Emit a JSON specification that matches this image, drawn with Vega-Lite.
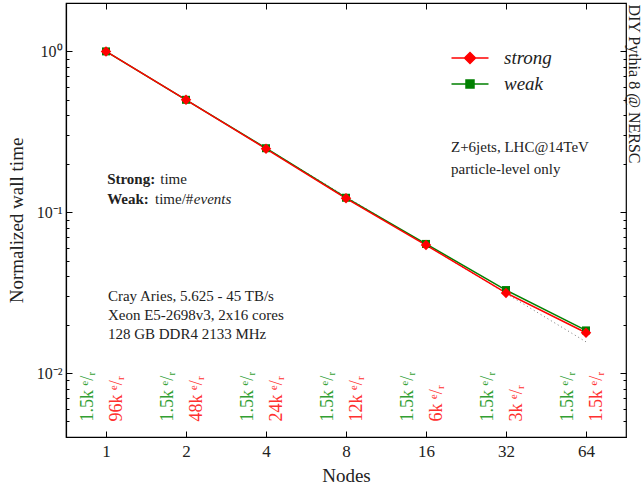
{
  "$schema": "https://vega.github.io/schema/vega-lite/v6.json",
  "width": 560,
  "height": 434,
  "autosize": {"type": "none"},
  "padding": {"left": 66, "top": 3, "right": 16, "bottom": 52},
  "background": "white",
  "config": {
    "view": {"stroke": "black", "strokeWidth": 1.2},
    "font": "Liberation Serif",
    "text": {"font": "Liberation Serif"},
    "legend": {"labelFont": "Liberation Serif"},
    "axis": {
      "grid": false,
      "domainColor": "black",
      "domainWidth": 1.2,
      "tickColor": "black",
      "tickWidth": 1,
      "labelColor": "#222222",
      "titleColor": "#222222",
      "labelFont": "Liberation Serif",
      "titleFont": "Liberation Serif",
      "titleFontWeight": "normal"
    }
  },
  "datasets": {
    "timing": [
      {"nodes": 1, "series": "weak", "time": 1.0},
      {"nodes": 2, "series": "weak", "time": 0.5},
      {"nodes": 4, "series": "weak", "time": 0.25},
      {"nodes": 8, "series": "weak", "time": 0.123},
      {"nodes": 16, "series": "weak", "time": 0.0635},
      {"nodes": 32, "series": "weak", "time": 0.0328},
      {"nodes": 64, "series": "weak", "time": 0.0184},
      {"nodes": 1, "series": "strong", "time": 1.0},
      {"nodes": 2, "series": "strong", "time": 0.5},
      {"nodes": 4, "series": "strong", "time": 0.248},
      {"nodes": 8, "series": "strong", "time": 0.122},
      {"nodes": 16, "series": "strong", "time": 0.0625},
      {"nodes": 32, "series": "strong", "time": 0.0315},
      {"nodes": 64, "series": "strong", "time": 0.0178}
    ],
    "ideal": [
      {"nodes": 1, "time": 1.0},
      {"nodes": 2, "time": 0.5},
      {"nodes": 4, "time": 0.25},
      {"nodes": 8, "time": 0.125},
      {"nodes": 16, "time": 0.0625},
      {"nodes": 32, "time": 0.03125},
      {"nodes": 64, "time": 0.015625}
    ],
    "events": [
      {"nodes": 1, "weak": "1.5k ᵉ/ᵣ", "strong": "96k ᵉ/ᵣ"},
      {"nodes": 2, "weak": "1.5k ᵉ/ᵣ", "strong": "48k ᵉ/ᵣ"},
      {"nodes": 4, "weak": "1.5k ᵉ/ᵣ", "strong": "24k ᵉ/ᵣ"},
      {"nodes": 8, "weak": "1.5k ᵉ/ᵣ", "strong": "12k ᵉ/ᵣ"},
      {"nodes": 16, "weak": "1.5k ᵉ/ᵣ", "strong": "6k ᵉ/ᵣ"},
      {"nodes": 32, "weak": "1.5k ᵉ/ᵣ", "strong": "3k ᵉ/ᵣ"},
      {"nodes": 64, "weak": "1.5k ᵉ/ᵣ", "strong": "1.5k ᵉ/ᵣ"}
    ],
    "one": [{"k": 0}]
  },
  "layer": [
    {
      "data": {"name": "ideal"},
      "mark": {"type": "line", "color": "#777777", "strokeWidth": 1, "strokeDash": [1, 3]},
      "encoding": {
        "x": {"field": "nodes", "type": "quantitative",
          "scale": {"type": "log", "base": 2, "domain": [0.7071, 90.51], "nice": false},
          "axis": {"orient": "top", "values": [1, 2, 4, 8, 16, 32, 64], "labels": false, "title": null, "domain": false, "tickSize": -6}},
        "y": {"field": "time", "type": "quantitative",
          "scale": {"type": "log", "domain": [0.004, 2], "nice": false},
          "axis": {"orient": "right", "labels": false, "title": null, "domain": false,
            "values": [0.004, 0.005, 0.006, 0.007, 0.008, 0.009, 0.01, 0.02, 0.03, 0.04, 0.05, 0.06, 0.07, 0.08, 0.09, 0.1, 0.2, 0.3, 0.4, 0.5, 0.6, 0.7, 0.8, 0.9, 1],
            "tickSize": {"condition": {"test": "abs(log(datum.value)/LN10 - round(log(datum.value)/LN10)) < 0.001", "value": -6}, "value": -3}}}
      }
    },
    {
      "data": {"name": "timing"},
      "mark": {"type": "line", "strokeWidth": 1.5},
      "encoding": {
        "x": {"field": "nodes", "type": "quantitative",
          "scale": {"type": "log", "base": 2, "domain": [0.7071, 90.51], "nice": false},
          "axis": {"orient": "bottom", "values": [1, 2, 4, 8, 16, 32, 64], "labelExpr": "format(datum.value, 'd')",
            "labelFontSize": 17, "labelPadding": 12, "tickSize": -6, "title": "Nodes", "titleFontSize": 19,
            "titleY": 38, "titleBaseline": "middle"}},
        "y": {"field": "time", "type": "quantitative",
          "scale": {"type": "log", "domain": [0.004, 2], "nice": false},
          "axis": {"orient": "left",
            "values": [0.004, 0.005, 0.006, 0.007, 0.008, 0.009, 0.01, 0.02, 0.03, 0.04, 0.05, 0.06, 0.07, 0.08, 0.09, 0.1, 0.2, 0.3, 0.4, 0.5, 0.6, 0.7, 0.8, 0.9, 1],
            "labelExpr": "datum.value == 1 ? '10⁰' : (abs(datum.value - 0.1) < 1e-9 ? '10⁻¹' : (abs(datum.value - 0.01) < 1e-9 ? '10⁻²' : ''))",
            "labelFontSize": 16, "labelPadding": 10,
            "tickSize": {"condition": {"test": "abs(log(datum.value)/LN10 - round(log(datum.value)/LN10)) < 0.001", "value": -6}, "value": -3},
            "title": "Normalized wall time", "titleFontSize": 19, "titleX": -50, "titleY": 217, "titleAnchor": "middle", "titleBaseline": "middle"}},
        "color": {"field": "series", "type": "nominal",
          "scale": {"domain": ["strong", "weak"], "range": ["#ff0000", "#008000"]},
          "legend": {"orient": "none", "legendX": 393, "legendY": 44, "title": null, "padding": 0,
            "symbolSize": 400, "labelOffset": 23, "rowPadding": 5, "labelFont": "Liberation Serif",
            "labelFontStyle": "italic", "labelFontSize": 19, "labelColor": "#222222", "symbolStrokeWidth": 1.5,
            "encode": {"symbols": {"update": {
              "shape": {"signal": "datum.value === 'strong' ? 'M-1.85,0H1.85M0,-0.55L0.55,0L0,0.55L-0.55,0Z' : 'M-1.85,0H1.85M-0.4,-0.4H0.4V0.4H-0.4Z'"},
              "fill": {"signal": "datum.value === 'strong' ? '#ff0000' : '#008000'"},
              "fillOpacity": {"value": 1}}}}}}
      }
    },
    {
      "data": {"name": "timing"},
      "transform": [{"filter": "datum.series === 'weak'"}],
      "mark": {"type": "point", "shape": "square", "filled": true, "size": 64, "color": "#008000", "opacity": 1},
      "encoding": {
        "x": {"field": "nodes", "type": "quantitative", "scale": {"type": "log", "base": 2, "domain": [0.7071, 90.51], "nice": false}, "axis": null},
        "y": {"field": "time", "type": "quantitative", "scale": {"type": "log", "domain": [0.004, 2], "nice": false}, "axis": null}
      }
    },
    {
      "data": {"name": "timing"},
      "transform": [{"filter": "datum.series === 'strong'"}],
      "mark": {"type": "point", "shape": "diamond", "filled": true, "size": 110, "color": "#ff0000", "opacity": 1},
      "encoding": {
        "x": {"field": "nodes", "type": "quantitative", "scale": {"type": "log", "base": 2, "domain": [0.7071, 90.51], "nice": false}, "axis": null},
        "y": {"field": "time", "type": "quantitative", "scale": {"type": "log", "domain": [0.004, 2], "nice": false}, "axis": null}
      }
    },
    {
      "data": {"name": "events"},
      "mark": {"type": "text", "angle": 270, "align": "left", "baseline": "middle", "dy": -18, "fontSize": 18, "font": "Liberation Serif", "color": "#33a033"},
      "encoding": {
        "x": {"field": "nodes", "type": "quantitative", "scale": {"type": "log", "base": 2, "domain": [0.7071, 90.51], "nice": false}, "axis": null},
        "y": {"datum": 0.005, "type": "quantitative", "scale": {"type": "log", "domain": [0.004, 2], "nice": false}, "axis": null},
        "text": {"field": "weak"}
      }
    },
    {
      "data": {"name": "events"},
      "mark": {"type": "text", "angle": 270, "align": "left", "baseline": "middle", "dy": 11, "fontSize": 18, "font": "Liberation Serif", "color": "#ff3030"},
      "encoding": {
        "x": {"field": "nodes", "type": "quantitative", "scale": {"type": "log", "base": 2, "domain": [0.7071, 90.51], "nice": false}, "axis": null},
        "y": {"datum": 0.005, "type": "quantitative", "scale": {"type": "log", "domain": [0.004, 2], "nice": false}, "axis": null},
        "text": {"field": "strong"}
      }
    },
    {
      "data": {"name": "one"},
      "mark": {"type": "text", "text": "Strong:", "fontWeight": "bold", "fontSize": 15, "align": "left", "baseline": "middle", "color": "#222222"},
      "encoding": {
        "x": {"datum": 1.01, "type": "quantitative", "scale": {"type": "log", "base": 2, "domain": [0.7071, 90.51], "nice": false}, "axis": null},
        "y": {"datum": 0.16, "type": "quantitative", "scale": {"type": "log", "domain": [0.004, 2], "nice": false}, "axis": null}
      }
    },
    {
      "data": {"name": "one"},
      "mark": {"type": "text", "text": "time", "fontSize": 15, "align": "left", "baseline": "middle", "color": "#222222"},
      "encoding": {
        "x": {"datum": 1.6, "type": "quantitative", "scale": {"type": "log", "base": 2, "domain": [0.7071, 90.51], "nice": false}, "axis": null},
        "y": {"datum": 0.16, "type": "quantitative", "scale": {"type": "log", "domain": [0.004, 2], "nice": false}, "axis": null}
      }
    },
    {
      "data": {"name": "one"},
      "mark": {"type": "text", "text": "Weak:", "fontWeight": "bold", "fontSize": 15, "align": "left", "baseline": "middle", "color": "#222222"},
      "encoding": {
        "x": {"datum": 1.01, "type": "quantitative", "scale": {"type": "log", "base": 2, "domain": [0.7071, 90.51], "nice": false}, "axis": null},
        "y": {"datum": 0.1205, "type": "quantitative", "scale": {"type": "log", "domain": [0.004, 2], "nice": false}, "axis": null}
      }
    },
    {
      "data": {"name": "one"},
      "mark": {"type": "text", "text": "time/#", "fontSize": 15, "align": "left", "baseline": "middle", "color": "#222222"},
      "encoding": {
        "x": {"datum": 1.529, "type": "quantitative", "scale": {"type": "log", "base": 2, "domain": [0.7071, 90.51], "nice": false}, "axis": null},
        "y": {"datum": 0.1205, "type": "quantitative", "scale": {"type": "log", "domain": [0.004, 2], "nice": false}, "axis": null}
      }
    },
    {
      "data": {"name": "one"},
      "mark": {"type": "text", "text": "events", "fontStyle": "italic", "fontSize": 15, "align": "left", "baseline": "middle", "color": "#222222"},
      "encoding": {
        "x": {"datum": 2.14, "type": "quantitative", "scale": {"type": "log", "base": 2, "domain": [0.7071, 90.51], "nice": false}, "axis": null},
        "y": {"datum": 0.1205, "type": "quantitative", "scale": {"type": "log", "domain": [0.004, 2], "nice": false}, "axis": null}
      }
    },
    {
      "data": {"name": "one"},
      "mark": {"type": "text", "text": ["Cray Aries, 5.625 - 45 TB/s", "Xeon E5-2698v3, 2x16 cores", "128 GB DDR4 2133 MHz"], "fontSize": 15, "lineHeight": 19, "align": "left", "baseline": "middle", "color": "#222222"},
      "encoding": {
        "x": {"datum": 1.017, "type": "quantitative", "scale": {"type": "log", "base": 2, "domain": [0.7071, 90.51], "nice": false}, "axis": null},
        "y": {"datum": 0.0303, "type": "quantitative", "scale": {"type": "log", "domain": [0.004, 2], "nice": false}, "axis": null}
      }
    },
    {
      "data": {"name": "one"},
      "mark": {"type": "text", "text": ["Z+6jets, LHC@14TeV", "particle-level only"], "fontSize": 15, "lineHeight": 22, "align": "left", "baseline": "middle", "color": "#222222"},
      "encoding": {
        "x": {"datum": 19.87, "type": "quantitative", "scale": {"type": "log", "base": 2, "domain": [0.7071, 90.51], "nice": false}, "axis": null},
        "y": {"datum": 0.2533, "type": "quantitative", "scale": {"type": "log", "domain": [0.004, 2], "nice": false}, "axis": null}
      }
    },
    {
      "data": {"name": "one"},
      "mark": {"type": "text", "text": "DIY Pythia 8 @ NERSC", "angle": 90, "fontSize": 16, "align": "left", "baseline": "middle", "color": "#222222"},
      "encoding": {
        "x": {"datum": 97.0, "type": "quantitative", "scale": {"type": "log", "base": 2, "domain": [0.7071, 90.51], "nice": false}, "axis": null},
        "y": {"datum": 1.96, "type": "quantitative", "scale": {"type": "log", "domain": [0.004, 2], "nice": false}, "axis": null}
      }
    }
  ],
  "resolve": {"axis": {"x": "independent", "y": "independent"}}
}
